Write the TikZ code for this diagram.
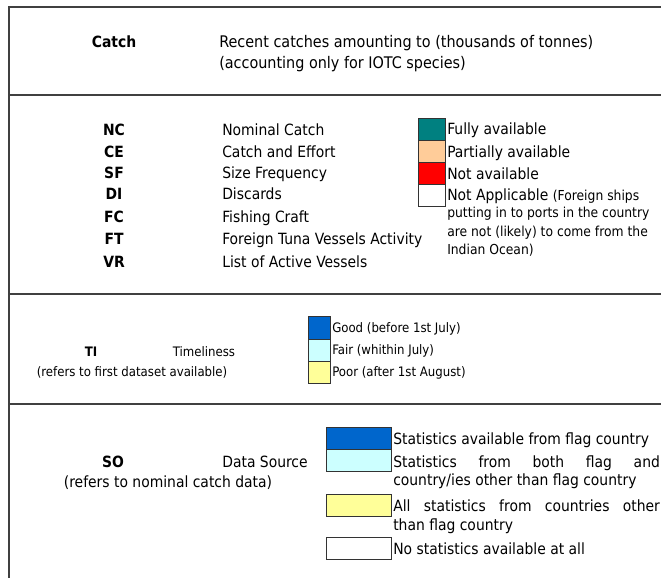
\documentclass[tikz,border=0pt]{standalone}
\usepackage{fontspec}
\setmainfont{DejaVu Sans Condensed}
\definecolor{teal1}{HTML}{008080}
\definecolor{peach}{HTML}{FFCC99}
\definecolor{red1}{HTML}{FF0000}
\definecolor{blue1}{HTML}{0066CC}
\definecolor{cyan1}{HTML}{CCFFFF}
\definecolor{yel1}{HTML}{FFFF99}
\newcommand{\fs}{\fontsize{11.6pt}{14pt}\selectfont}
\newcommand{\fsb}{\fontsize{12pt}{14pt}\selectfont}
\newcommand{\fss}{\fontsize{10.3pt}{12pt}\selectfont}
\newcommand{\fst}{\fontsize{9.8pt}{12pt}\selectfont}
\tikzset{
  frame/.style={draw=black!75, line width=1.3pt},
  txt/.style={anchor=base west, inner sep=0pt, font=\fs, yshift=-3.9pt},
  btxt/.style={anchor=base west, inner sep=0pt, font=\fsb, yshift=-4.1pt},
  stxt/.style={anchor=base west, inner sep=0pt, font=\fss, yshift=-3.5pt},
  ttxt/.style={anchor=base west, inner sep=0pt, font=\fst, yshift=-3.4pt},
  code/.style={anchor=base, inner sep=0pt, font=\fs\bfseries, yshift=-3.9pt},
  ctxt/.style={anchor=base, inner sep=0pt, font=\fs, yshift=-3.9pt},
  tctxt/.style={anchor=base, inner sep=0pt, font=\fst, yshift=-3.4pt},
  legbox/.style={draw=black!80, line width=0.75pt}
}
\begin{document}
\begin{tikzpicture}[x=0.75pt,y=-0.75pt]
\useasboundingbox (0,0) rectangle (661,578);
\fill[white] (0,0) rectangle (661,578);
% frame
\coordinate (tl) at (9,7);
\coordinate (tr) at (661,7);
\coordinate (bl) at (9,578);
\coordinate (h1l) at (9,95);
\coordinate (h1r) at (661,95);
\coordinate (h2l) at (9,294);
\coordinate (h2r) at (661,294);
\coordinate (h3l) at (9,404);
\coordinate (h3r) at (661,404);
\draw[frame] (tr) -- (tl) -- (bl);
\draw[frame] (h1l) -- (h1r);
\draw[frame] (h2l) -- (h2r);
\draw[frame] (h3l) -- (h3r);
% section 1
\node[code] (catch) at (114,42) {Catch};
\node[btxt] (catchd1) at (219,42) {Recent catches amounting to (thousands of tonnes)};
\node[btxt] (catchd2) at (219,63) {(accounting only for IOTC species)};
% section 2
\node[code] (nc) at (114,130) {NC};
\node[code] (ce) at (114,152) {CE};
\node[code] (sf) at (114,173) {SF};
\node[code] (di) at (114,194) {DI};
\node[code] (fc) at (114,217) {FC};
\node[code] (ft) at (114,239) {FT};
\node[code] (vr) at (114,262) {VR};
\node[txt] (ncd) at (222,130) {Nominal Catch};
\node[txt] (ced) at (222,152) {Catch and Effort};
\node[txt] (sfd) at (222,173) {Size Frequency};
\node[txt] (did) at (222,194) {Discards};
\node[txt] (fcd) at (222,217) {Fishing Craft};
\node[txt] (ftd) at (222,239) {Foreign Tuna Vessels Activity};
\node[txt] (vrd) at (222,262) {List of Active Vessels};
\draw[legbox, fill=teal1] (418,118) rectangle (445,140);
\draw[legbox, fill=peach] (418,140) rectangle (445,162);
\draw[legbox, fill=red1] (418,162) rectangle (445,184);
\draw[legbox, fill=white] (418,184) rectangle (445,206);
\node[txt] (l1) at (447,129) {Fully available};
\node[txt] (l2) at (447,152) {Partially available};
\node[txt] (l3) at (447,174) {Not available};
\node[txt] (l4) at (447,195) {Not Applicable {\fss(Foreign ships}};
\node[stxt] (l5) at (447,213) {putting in to ports in the country};
\node[stxt] (l6) at (447,232) {are not (likely) to come from the};
\node[stxt] (l7) at (447,250) {Indian Ocean)};
% section 3
\node[tctxt, font=\fst\bfseries] (ti) at (91,352) {TI};
\node[tctxt] (tid) at (204,352) {Timeliness};
\node[tctxt] (tin) at (132,372) {(refers to first dataset available)};
\draw[legbox, fill=blue1] (308,316) rectangle (330,339);
\draw[legbox, fill=cyan1] (308,339) rectangle (330,361);
\draw[legbox, fill=yel1] (308,361) rectangle (330,383);
\node[ttxt] (t1) at (332,328) {Good (before 1st July)};
\node[ttxt] (t2) at (332,350) {Fair (whithin July)};
\node[ttxt] (t3) at (332,372) {Poor (after 1st August)};
% section 4
\node[code] (so) at (113,462) {SO};
\node[ctxt] (sod) at (265,462) {Data Source};
\node[ctxt] (son) at (168,482) {(refers to nominal catch data)};
\draw[legbox, fill=blue1] (326,427) rectangle (391,449);
\draw[legbox, fill=cyan1] (326,449) rectangle (391,471);
\draw[legbox, fill=yel1] (326,494) rectangle (391,516);
\draw[legbox, fill=white] (326,537) rectangle (391,559);
\node[txt] (s1) at (393,439) {Statistics available from flag country};
\node[txt] (s2) at (393,462) {\makebox[200pt][s]{Statistics from both flag and}};
\node[txt] (s3) at (393,480) {country/ies other than flag country};
\node[txt] (s4) at (393,506) {\makebox[200pt][s]{All statistics from countries other}};
\node[txt] (s5) at (393,525) {than flag country};
\node[txt] (s6) at (393,549) {No statistics available at all};
\end{tikzpicture}
\end{document}
